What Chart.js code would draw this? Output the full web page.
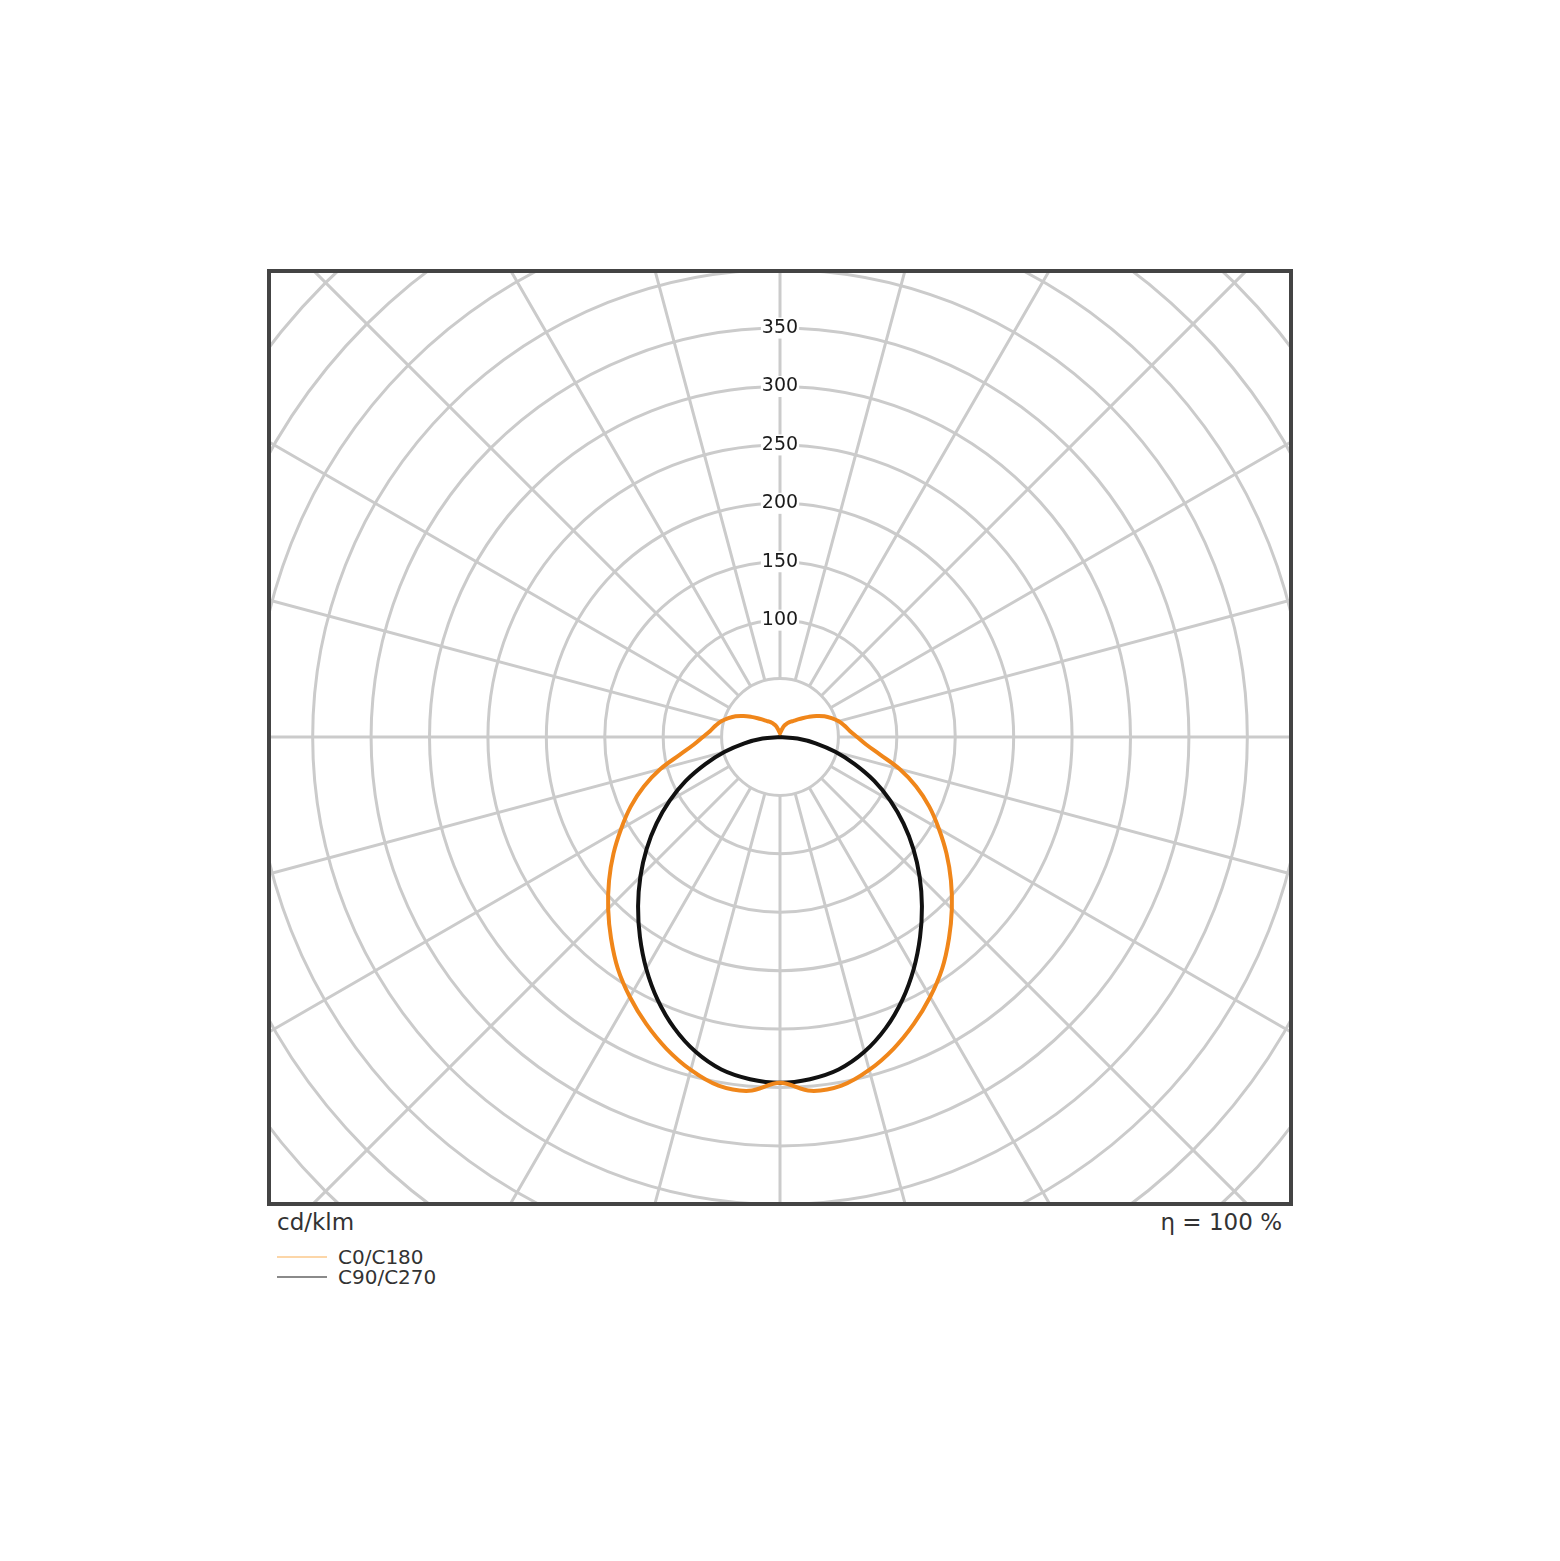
<!DOCTYPE html>
<html>
<head>
<meta charset="utf-8">
<script src="https://cdn.jsdelivr.net/npm/chart.js@4"></script>
<style>
  html, body { margin: 0; padding: 0; background: #fff; }
  body { width: 1560px; height: 1561px; position: relative; font-family: 'DejaVu Sans', sans-serif; color: #333; }
  #frame { position: absolute; left: 267px; top: 269px; width: 1026px; height: 937px; border: 4px solid #444; box-sizing: border-box; overflow: hidden; }
  #wrap { position: absolute; left: -202px; top: -247px; width: 1423px; height: 1423px; }
  .lbl { position: absolute; font-size: 23px; line-height: 24px; white-space: nowrap; }
  #legend { position: absolute; left: 277px; top: 1247px; font-size: 20px; line-height: 20px; }
  #legend div { display: flex; align-items: center; height: 20px; }
  #legend span.swatch { display: inline-block; width: 50px; height: 2px; margin-right: 11px; }
</style>
</head>
<body>
<div id="frame"><div id="wrap"><canvas id="chart1"></canvas></div></div>
<div class="lbl" style="left:277px; top:1210px;">cd/klm</div>
<div class="lbl" style="right:278px; top:1210px;">η = 100 %</div>
<div id="legend"></div>

<script>
// gamma angles 0..180 in 5 degree steps (0 = straight down)
const gammas = [0, 5, 10, 15, 20, 25, 30, 35, 40, 45, 50, 55, 60, 65, 70, 75, 80, 85, 90,
    95, 100, 105, 110, 115, 120, 125, 130, 135, 140, 145, 150, 155, 160, 165, 170, 175, 180]

// cd/klm (both halves look the same)
const c0c180 = [296, 304, 303, 295, 284, 271, 257, 242, 225, 208, 191, 174, 157, 141, 124, 106, 87, 74, 66,
    60, 56, 52, 47, 42, 36, 30, 25, 21, 18, 16, 14, 12, 10, 7, 5, 4, 3]
const c90c270 = [296, 294, 289, 279, 265, 248, 229, 209, 189, 169, 149, 129, 109, 89, 68, 49, 31, 15, 0,
    0, 0, 0, 0, 0, 0, 0, 0, 0, 0, 0, 0, 0, 0, 0, 0, 0, 0]

const tickLabels = [100, 150, 200, 250, 300, 350]
const seriesNames = ['C0/C180', 'C90/C270']


// radar goes clockwise from the top: right half is gamma 180 -> 0, left half 0 -> 180
const labels = []
for (let t = 0; t < 360; t += 5) labels.push(t <= 180 ? 180 - t : t - 180)

function aroundCircle(profile) {
    return labels.map(g => profile[gammas.indexOf(g)])
}

const data = {
    labels,
    datasets: [
        {
            label: seriesNames[0],
            data: aroundCircle(c0c180),
            borderColor: '#f0861a',
            borderWidth: 4,
            fill: false,
            pointRadius: 0,
            tension: 0.35
        },
        {
            label: seriesNames[1],
            data: aroundCircle(c90c270),
            borderColor: '#111',
            borderWidth: 4,
            fill: false,
            pointRadius: 0,
            tension: 0.35
        }
    ]
}

const options = {
    responsive: true,
    maintainAspectRatio: false,
    animation: false,
    layout: { padding: 0 },
    plugins: {
        legend: { display: false },
        tooltip: { enabled: false }
    },
    scales: {
        r: {
            min: 0,
            max: 600,
            startAngle: 0,
            grid: { color: '#cbcbcb', lineWidth: 3, circular: true },
            angleLines: {
                display: true,
                lineWidth: 3,
                color: ctx => ctx.index % 3 === 0 ? '#cbcbcb' : 'rgba(0,0,0,0)',
                // spokes start at the 50 ring
                borderDash: ctx => [0, ctx.chart.scales.r.getDistanceFromCenterForValue(50), 3000, 0]
            },
            pointLabels: { display: false },
            ticks: {
                stepSize: 50,
                color: '#1a1a1a',
                font: { family: 'DejaVu Sans', size: 19 },
                callback: v => tickLabels.includes(v) ? String(v) : '',
                showLabelBackdrop: ctx => !!(ctx.tick && ctx.tick.label),
                backdropColor: '#fff',
                backdropPadding: 1
            }
        }
    }
}

new Chart('chart1', { type: 'radar', data, options })


const legendColors = ['#fcd6a8', '#8a8a8a']
document.getElementById('legend').innerHTML = seriesNames
    .map((name, i) => `<div><span class="swatch" style="background:${legendColors[i]}"></span>${name}</div>`)
    .join('')
</script>
</body>
</html>
